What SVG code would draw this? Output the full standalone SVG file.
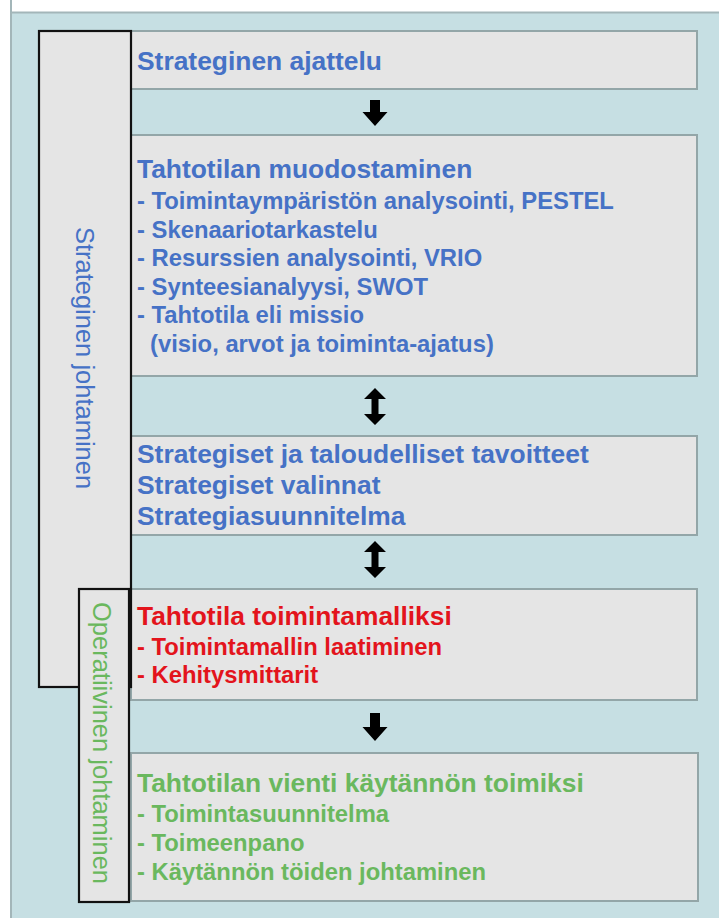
<svg xmlns="http://www.w3.org/2000/svg" width="719" height="918" viewBox="0 0 719 918">
<style>
.box{fill:#e5e5e5;stroke:#93a6a8;stroke-width:2}
.side{fill:#e5e5e5;stroke:#111;stroke-width:2.2}
.t{font-family:"Liberation Sans",Arial,sans-serif;font-weight:bold}
.h{font-size:26.4px}
.b{font-size:23.8px}
.blue{fill:#4672c6}
.red{fill:#e3141c}
.green{fill:#6ab85e}
.vt{font-family:"Liberation Sans",Arial,sans-serif;font-size:25.5px;dominant-baseline:central;text-anchor:middle}
.arr{fill:#000}
</style>
<rect x="0" y="0" width="719" height="918" fill="#fff"/>
<rect x="11" y="12.5" width="712" height="910" fill="#c6dfe3" stroke="#a3b6b9" stroke-width="2"/>
<line x1="11" y1="0" x2="11" y2="14" stroke="#a3b6b9" stroke-width="2"/>

<g id="box1">
<rect class="box" x="131" y="31" width="566" height="58"/>
<text class="t h blue" x="137" y="70">Strateginen ajattelu</text>
</g>
<g id="box2">
<rect class="box" x="131" y="135" width="566" height="241"/>
<text class="t h blue" x="137" y="178">Tahtotilan muodostaminen</text>
<text class="t b blue" x="137" y="209">- Toimintaympäristön analysointi, PESTEL</text>
<text class="t b blue" x="137" y="238">- Skenaariotarkastelu</text>
<text class="t b blue" x="137" y="266">- Resurssien analysointi, VRIO</text>
<text class="t b blue" x="137" y="295">- Synteesianalyysi, SWOT</text>
<text class="t b blue" x="137" y="323">- Tahtotila eli missio</text>
<text class="t b blue" x="150" y="352">(visio, arvot ja toiminta-ajatus)</text>
</g>
<g id="box3">
<rect class="box" x="131" y="436" width="566" height="99"/>
<text class="t h blue" x="137" y="463">Strategiset ja taloudelliset tavoitteet</text>
<text class="t h blue" x="137" y="494">Strategiset valinnat</text>
<text class="t h blue" x="137" y="525">Strategiasuunnitelma</text>
</g>
<g id="box4">
<rect class="box" x="131" y="589" width="566" height="111"/>
<text class="t h red" x="137" y="625">Tahtotila toimintamalliksi</text>
<text class="t b red" x="137" y="655">- Toimintamallin laatiminen</text>
<text class="t b red" x="137" y="683">- Kehitysmittarit</text>
</g>
<g id="box5">
<rect class="box" x="131" y="753" width="567" height="148"/>
<text class="t h green" x="137" y="792">Tahtotilan vienti käytännön toimiksi</text>
<text class="t b green" x="137" y="822">- Toimintasuunnitelma</text>
<text class="t b green" x="137" y="851">- Toimeenpano</text>
<text class="t b green" x="137" y="880">- Käytännön töiden johtaminen</text>
</g>

<g id="strateginen-johtaminen">
<rect class="side" x="39" y="31" width="92" height="656"/>
<text class="vt blue" transform="translate(85,358) rotate(90)">Strateginen johtaminen</text>
</g>
<g id="operatiivinen-johtaminen">
<rect class="side" x="79" y="589" width="50" height="313"/>
<text class="vt green" transform="translate(102,743) rotate(90)">Operatiivinen johtaminen</text>
</g>

<g id="connectors">
<polygon class="arr" points="370,100 380,100 380,112 387.5,112 375,126 362.5,112 370,112"/>
<polygon class="arr" points="375,388 386,399 378.5,399 378.5,414 386,414 375,425 364,414 371.5,414 371.5,399 364,399"/>
<polygon class="arr" points="375,541 386,552 378.5,552 378.5,567 386,567 375,578 364,567 371.5,567 371.5,552 364,552"/>
<polygon class="arr" points="370,713 380,713 380,727 387.5,727 375,741 362.5,727 370,727"/>
</g>
</svg>
